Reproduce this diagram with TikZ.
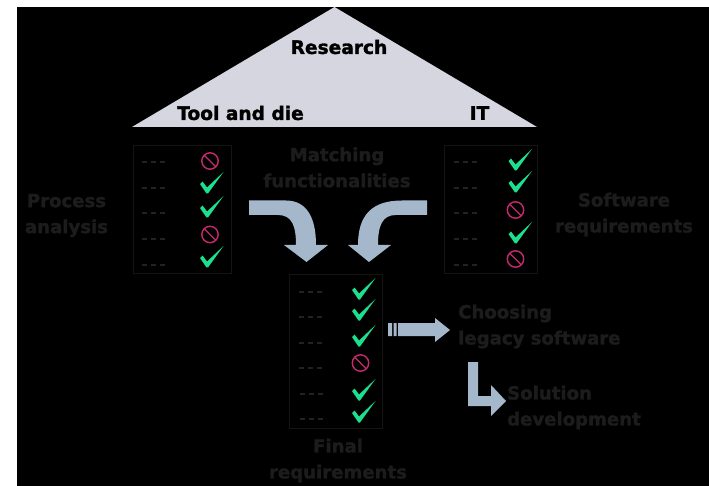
\documentclass[tikz,border=0pt]{standalone}
\usepackage{fontspec}
\setmainfont[BoldFeatures={FakeBold=1.6}]{DejaVu Sans}
\definecolor{roofc}{HTML}{D5D6DF}
\definecolor{arrc}{HTML}{A5B8CB}
\definecolor{dimtx}{HTML}{1C1C1C}
\definecolor{boxc}{HTML}{141414}
\definecolor{dashc}{HTML}{222222}
\definecolor{okc}{HTML}{1CE08E}
\definecolor{noc}{HTML}{C42A6C}
\tikzset{
  lab/.style={font=\fontsize{18.6}{26}\selectfont\bfseries,inner sep=0pt,align=center},
  dimlab/.style={lab,font=\fontsize{18.1}{26}\selectfont\bfseries,text=dimtx},
  listbox/.style={draw=boxc,line width=0.9pt},
  blockarrow/.style={fill=arrc,draw=none},
  dashrow/.style={draw=dashc,line width=1.1pt,dash pattern=on 4.5pt off 4.5pt}
}
\newcommand{\okm}[2]{\fill[okc,shift={(#1,#2)}] (0,12) -- (2.5,9.5) -- (7,15.5) -- (23.5,0) -- (8,21.5) -- (6.5,21.5) -- cycle;}
\newcommand{\nom}[2]{\begin{scope}[shift={(#1,#2)}]\draw[noc,line width=1.4pt] (0,0) circle[radius=8.2] (-5.6,-5.6) -- (5.6,5.6);\end{scope}}
\newcommand{\dsh}[2]{\draw[dashrow,shift={(#1,#2)}] (0,0) -- (23,0);}
\begin{document}
\begin{tikzpicture}[x=1pt,y=-1pt]
\useasboundingbox (0,0) rectangle (709,486);
\fill[white] (0,0) rectangle (709,486);
\fill[black] (17,7) rectangle (709,486);
% roof
\fill[roofc] (334.5,7) -- (537,127) -- (132,127) -- cycle;
\node[lab,text=black] (research) at (339,47) {Research};
\node[lab,text=black] (tool) at (240.5,113) {Tool and die};
\node[lab,text=black] (it) at (479.5,113) {IT};
% boxes
\node[listbox,minimum width=98pt,minimum height=128pt,inner sep=0pt] (boxL) at (182,209) {};
\node[listbox,minimum width=93pt,minimum height=128pt,inner sep=0pt] (boxR) at (490.5,209) {};
\node[listbox,minimum width=93pt,minimum height=154pt,inner sep=0pt] (boxB) at (335.5,351) {};
% left list
\foreach \y in {162,188,213,239,265} {\dsh{142}{\y}}
\nom{210}{161} \okm{200}{172} \okm{200}{196} \nom{210}{234.5} \okm{200}{246}
% right list
\foreach \y in {162,188,213,239,265} {\dsh{454}{\y}}
\okm{508.5}{149} \okm{508.5}{171} \nom{515.5}{210} \okm{508.5}{222} \nom{515.5}{259}
% bottom list
\foreach \y in {292,317,343,368} {\dsh{299}{\y}}
\foreach \y in {394,419} {\dsh{300}{\y}}
\okm{352}{278} \okm{352}{299} \okm{352}{325} \nom{360.5}{363} \okm{352}{379} \okm{352}{401}
% block arrows
\fill[blockarrow] (249,200.5) -- (286,200.5) .. controls (305,200.5) and (316,215) .. (316,245)
  -- (328,245) -- (306.5,262) -- (284,245) -- (296,245) .. controls (296,226) and (292,215) .. (278,215) -- (249,215) -- cycle;
\fill[blockarrow] (427,200.5) -- (402,200.5) .. controls (372,200.5) and (358,215) .. (358,245)
  -- (348,245) -- (369,262) -- (391,245) -- (378,245) .. controls (378,226) and (382,215) .. (396,215) -- (427,215) -- cycle;
\fill[blockarrow] (388,323) rectangle (392,336) (393.5,323) rectangle (396.5,336);
\fill[blockarrow] (398,323) -- (435,323) -- (435,318) -- (450,330) -- (435,342) -- (435,336) -- (398,336) -- cycle;
\fill[blockarrow] (468,362) -- (478,362) -- (478,396) -- (491,396) -- (491,385) -- (506,401) -- (491,416) -- (491,406) -- (468,406) -- cycle;
% dim labels
\node[dimlab] (match) at (337,167.5) {Matching\\functionalities};
\node[dimlab] (proc) at (66.5,215.5) {Process\\analysis};
\node[dimlab] (soft) at (624,214.5) {Software\\requirements};
\node[dimlab] (final) at (338,460.5) {Final\\requirements};
\node[dimlab,align=left,anchor=west] (choose) at (458,326.5) {Choosing\\legacy software};
\node[dimlab,align=left,anchor=west] (solve) at (507,407.5) {Solution\\development};
\end{tikzpicture}
\end{document}
